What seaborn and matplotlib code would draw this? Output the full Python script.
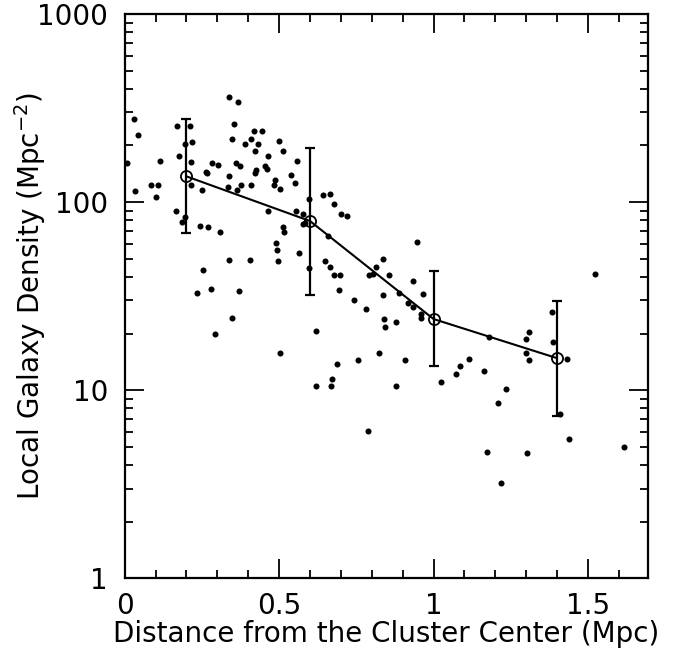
import numpy as np
import pandas as pd
import matplotlib
matplotlib.use("Agg")
import matplotlib.pyplot as plt
from matplotlib.ticker import MultipleLocator, LogLocator, FuncFormatter, NullFormatter
import seaborn as sns

# ---- individual galaxies: distance (Mpc) and local density (Mpc^-2)
dist = [0.030, 0.043, 0.008, 0.033, 0.084, 0.107, 0.102, 0.114, 0.169, 0.213,
        0.176, 0.195, 0.217, 0.214, 0.215, 0.167, 0.195, 0.186, 0.250, 0.243,
        0.270, 0.307, 0.255, 0.233, 0.280, 0.293, 0.264, 0.268, 0.284, 0.301,
        0.339, 0.366, 0.355, 0.346, 0.361, 0.374, 0.338, 0.334, 0.363, 0.378,
        0.338, 0.348, 0.370, 0.406, 0.391, 0.410, 0.420, 0.444, 0.433, 0.421,
        0.426, 0.423, 0.410, 0.455, 0.464, 0.462, 0.487, 0.484, 0.502, 0.465,
        0.501, 0.513, 0.559, 0.539, 0.551, 0.513, 0.516, 0.490, 0.493, 0.497,
        0.563, 0.556, 0.578, 0.577, 0.585, 0.596, 0.596, 0.619, 0.643, 0.665,
        0.678, 0.699, 0.720, 0.659, 0.650, 0.665, 0.678, 0.697, 0.695, 0.503,
        0.688, 0.670, 0.668, 0.619, 0.789, 0.743, 0.781, 0.757, 0.823, 0.880,
        0.908, 0.792, 0.803, 0.814, 0.836, 0.856, 0.836, 0.841, 0.843, 0.878,
        0.887, 0.947, 0.935, 0.965, 0.916, 0.935, 0.961, 0.959, 1.025, 1.073,
        1.085, 1.116, 1.162, 1.179, 1.236, 1.208, 1.172, 1.302, 1.300, 1.308,
        1.301, 1.308, 1.385, 1.386, 1.431, 1.409, 1.439, 1.523, 1.616, 1.219]
density = [275, 226, 161, 115, 124, 124, 107, 166, 255, 255,
           176, 203, 209, 164, 124, 90, 83, 78, 116, 75,
           74, 69, 43.3, 32.7, 34.6, 19.9, 144, 143, 161, 158,
           361, 342, 261, 216, 161, 156, 137, 120, 116, 124,
           49.3, 24.2, 33.7, 49.3, 204, 216, 239, 239, 203, 188,
           148, 142, 123, 156, 175, 150, 131, 124, 118, 90,
           210, 188, 166, 139, 127, 74, 69.5, 60.8, 55.7, 48.4,
           53.4, 89.3, 86, 76.7, 77.6, 104, 44.4, 20.7, 109, 110,
           98, 86.4, 84.6, 65.9, 48.6, 45.1, 41.2, 40.9, 34.2, 15.8,
           13.7, 11.5, 10.5, 10.5, 6.1, 30.2, 27.1, 14.4, 15.8, 10.5,
           14.4, 41.2, 41.6, 45.1, 49.9, 41.2, 31.9, 23.9, 21.6, 23.0,
           33.0, 61.0, 38.1, 32.4, 28.9, 27.6, 25.5, 24.3, 11.0, 12.2,
           13.5, 14.7, 12.6, 19.1, 10.2, 8.6, 4.68, 4.66, 18.8, 20.5,
           15.8, 14.4, 25.9, 18.0, 14.7, 7.48, 5.49, 41.6, 4.98, 3.20]

# ---- binned medians with error bars
bin_dist = [0.2, 0.6, 1.0, 1.4]
bin_density = [137, 79.3, 23.9, 14.8]
bin_upper = [276, 194.5, 42.8, 29.7]
bin_lower = [68.4, 32.1, 13.5, 7.28]

points = pd.DataFrame({"dist": dist, "density": density})
bins = pd.DataFrame({"dist": bin_dist, "density": bin_density})

sns.set_theme(style="ticks")
plt.rcParams["font.family"] = ["DejaVu Sans"]
plt.rcParams["mathtext.fontset"] = "dejavusans"

fig = plt.figure(figsize=(6.96, 6.51), dpi=100)
ax = fig.add_axes([0.1792, 0.1117, 0.752, 0.8668])

sns.scatterplot(data=points, x="dist", y="density", ax=ax, color="black",
                s=19, linewidth=0, zorder=3)

yerr = np.array([np.array(bin_density) - np.array(bin_lower),
                 np.array(bin_upper) - np.array(bin_density)])
ax.errorbar(bin_dist, bin_density, yerr=yerr, fmt="none", ecolor="black",
            elinewidth=1.6, capsize=3.6, capthick=1.6, zorder=4)
sns.lineplot(data=bins, x="dist", y="density", ax=ax, color="black",
             linewidth=1.5, marker="o", markersize=8, markerfacecolor="none",
             markeredgecolor="black", markeredgewidth=1.3, zorder=5)

ax.set_yscale("log")
ax.set_xlim(0, 1.695)
ax.set_ylim(1, 1000)

ax.xaxis.set_major_locator(MultipleLocator(0.5))
ax.xaxis.set_minor_locator(MultipleLocator(0.1))
ax.xaxis.set_major_formatter(FuncFormatter(lambda v, p: f"{v:g}"))
ax.yaxis.set_major_locator(LogLocator(base=10, numticks=10))
ax.yaxis.set_minor_locator(LogLocator(base=10, subs=np.arange(2, 10), numticks=20))
ax.yaxis.set_major_formatter(FuncFormatter(lambda v, p: f"{v:g}"))
ax.yaxis.set_minor_formatter(NullFormatter())

ax.tick_params(which="both", direction="in", top=True, right=True,
               colors="black", labelsize=20)
ax.tick_params(which="major", length=14, width=1.3)
ax.tick_params(which="minor", length=6, width=1.3)
ax.tick_params(axis="x", which="major", pad=10)
ax.tick_params(axis="y", which="major", pad=12)

for sp in ax.spines.values():
    sp.set_linewidth(1.6)
    sp.set_color("black")
    sp.set_visible(True)

ax.set_xlabel("Distance from the Cluster Center (Mpc)", fontsize=20,
              color="black", labelpad=0)
ax.set_ylabel(r"Local Galaxy Density (Mpc$^{-2}$)", fontsize=20,
              color="black", labelpad=-8)
ax.grid(False)

fig.savefig("out.png", dpi=100)
